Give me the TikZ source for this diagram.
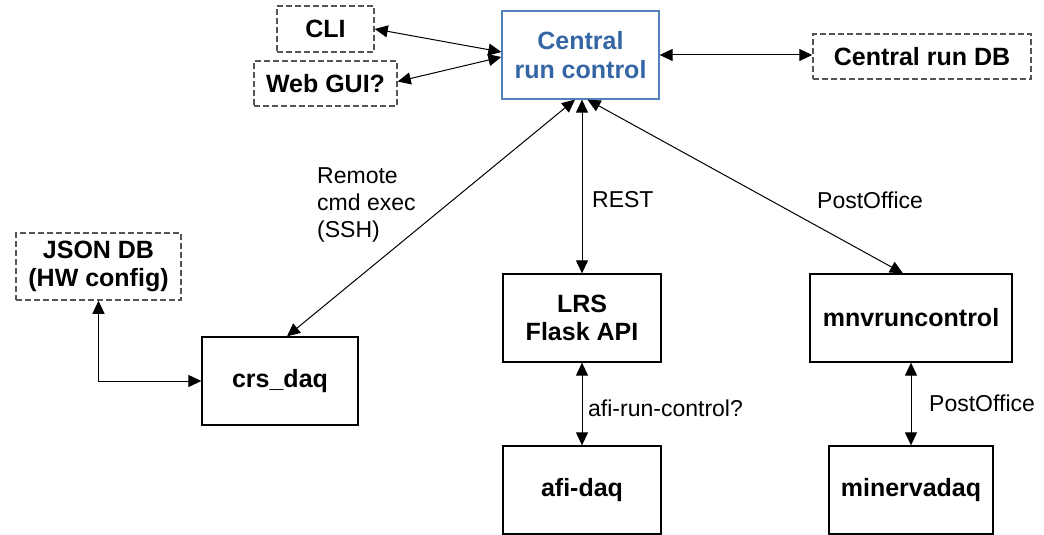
\documentclass[tikz,border=0pt]{standalone}
\usepackage{fontspec}
\setmainfont{Liberation Sans}
\usetikzlibrary{arrows.meta}
\definecolor{crblue}{RGB}{52,101,164}
\definecolor{crborder}{RGB}{84,130,190}
\definecolor{dashgray}{RGB}{85,85,85}
\begin{document}
\begin{tikzpicture}[x=1pt,y=-1pt,
  base/.style={inner sep=0pt, align=center, font=\fontsize{25}{28.5}\selectfont\bfseries},
  solidbox/.style={base, draw=black, line width=1.3pt},
  dashbox/.style={base, draw=dashgray, line width=1.5pt, dash pattern=on 6pt off 3pt},
  mainbox/.style={base, draw=crborder, line width=1.3pt, text=crblue},
  conn/.style={draw=black, line width=1pt, {Triangle[length=13pt,width=12pt]}-{Triangle[length=13pt,width=12pt]}},
  lbl/.style={inner sep=0pt, anchor=west, align=left, font=\fontsize{23}{27}\selectfont}
]
\useasboundingbox (0,0) rectangle (1044,535);

\node[dashbox, minimum width=97pt, minimum height=46pt] (cli) at (325.5,29) {CLI};
\node[dashbox, minimum width=143pt, minimum height=45pt] (web) at (325.5,83.5) {Web GUI?};
\node[mainbox, minimum width=157pt, minimum height=88pt] (central) at (580.5,55) {Central\\run control};
\node[dashbox, minimum width=218pt, minimum height=45pt] (cdb) at (922,56.5) {Central run DB};
\node[dashbox, minimum width=165pt, minimum height=67pt] (json) at (98.5,266.5) {JSON DB\\(HW config)};
\node[solidbox, minimum width=156pt, minimum height=88pt] (crs) at (280,381) {crs\_daq};
\node[solidbox, minimum width=158pt, minimum height=88pt] (lrs) at (582,318) {LRS\\Flask API};
\node[solidbox, minimum width=202pt, minimum height=88pt] (mnv) at (911,318) {mnvruncontrol};
\node[solidbox, minimum width=158pt, minimum height=88pt] (afi) at (582,490) {afi-daq};
\node[solidbox, minimum width=164pt, minimum height=88pt] (minerva) at (911,490) {minervadaq};

\node[lbl] (lssh) at (317,205) {Remote\\cmd exec\\(SSH)};
\node[lbl] (lrest) at (592,200) {REST};
\node[lbl] (lpo1) at (817,200) {PostOffice};
\node[lbl] (lafi) at (588,408) {afi-run-control?};
\node[lbl] (lpo2) at (929,403) {PostOffice};

\draw[conn] (cli.east) -- ([yshift=3pt]central.west);
\draw[conn] ([yshift=2pt]web.east) -- ([yshift=-2pt]central.west);
\draw[conn] (central.east) -- (central.east -| cdb.west);
\draw[conn] ([xshift=-5.5pt]central.south) -- ([xshift=7pt]crs.north);
\draw[conn] (lrs.north |- central.south) -- (lrs.north);
\draw[conn] ([xshift=7pt]central.south) -- ([xshift=-8pt]mnv.north);
\draw[conn] (json.south) |- (crs.west);
\draw[conn] (lrs.south) -- (afi.north);
\draw[conn] (mnv.south) -- (minerva.north);
\end{tikzpicture}
\end{document}
